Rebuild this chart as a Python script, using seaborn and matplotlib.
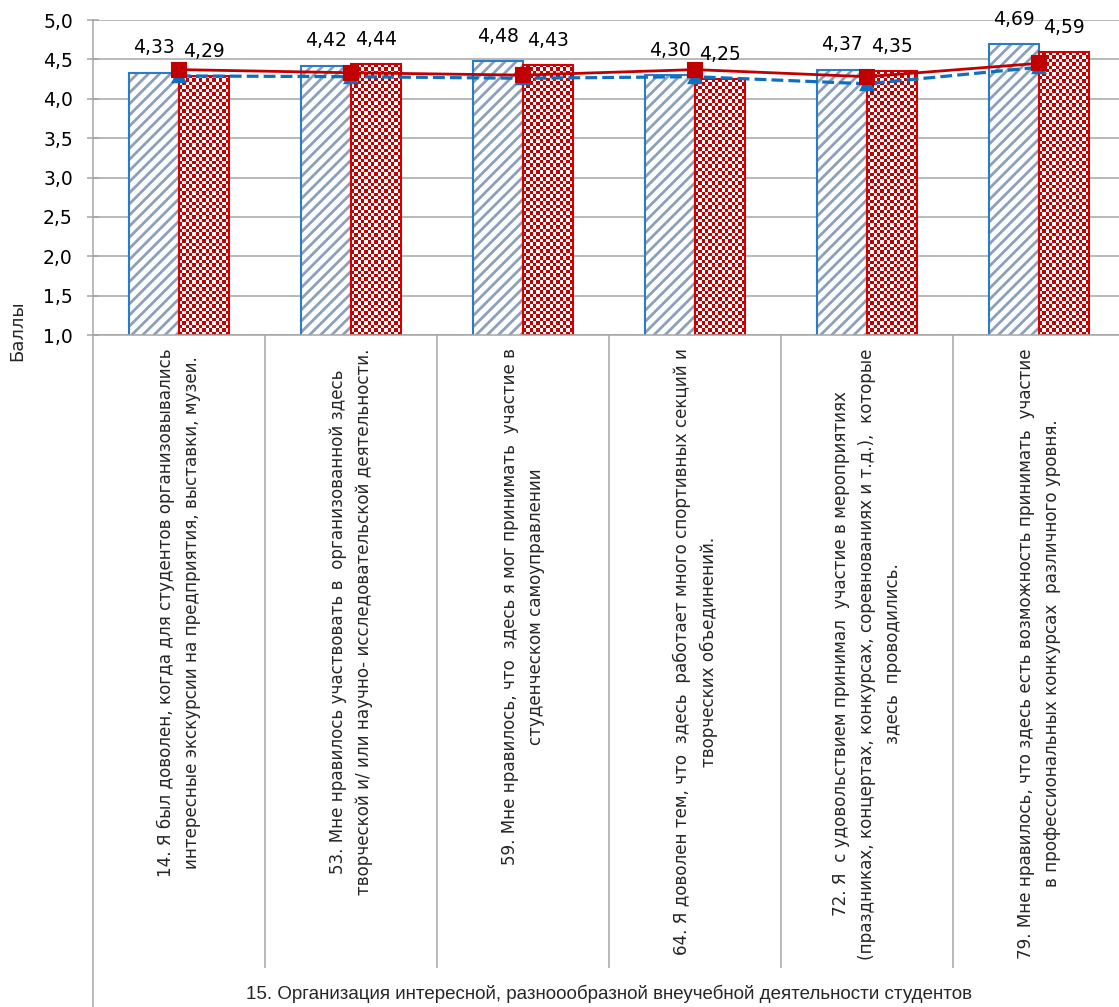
import numpy as np
import pandas as pd
import matplotlib
matplotlib.use("Agg")
import matplotlib.pyplot as plt
import matplotlib.transforms as mtransforms
from matplotlib.colors import ListedColormap
from matplotlib.patches import Rectangle
from matplotlib.ticker import FuncFormatter
import seaborn as sns

# survey items (category axis)
items = [
    "14. Я был доволен, когда для студентов организовывались\nинтересные экскурсии на предприятия, выставки, музеи.",
    "53. Мне нравилось участвовать в  организованной здесь\nтворческой и/ или научно- исследовательской деятельности.",
    "59. Мне нравилось, что  здесь я мог принимать  участие в\nстуденческом самоуправлении",
    "64. Я доволен тем, что  здесь  работает много спортивных секций и\nтворческих объединений.",
    "72. Я  с удовольствием принимал  участие в мероприятиях\n(праздниках, концертах, конкурсах, соревнованиях и т.д.),  которые\nздесь  проводились.",
    "79. Мне нравилось, что здесь есть возможность принимать  участие\nв профессиональных конкурсах  различного уровня.",
]
section = "15. Организация интересной, разноообразной внеучебной деятельности студентов"

# bar series
bar_blue = [4.33, 4.42, 4.48, 4.30, 4.37, 4.69]
bar_red = [4.29, 4.44, 4.43, 4.25, 4.35, 4.59]
# line series
line_red = [4.37, 4.33, 4.30, 4.37, 4.28, 4.45]
line_blue = [4.29, 4.28, 4.26, 4.28, 4.19, 4.40]

BLUE_EDGE = "#2A7CCB"
BLUE_HATCH = "#8DA0BA"
RED_EDGE = "#D40000"
RED_CHECK = "#C00000"
LINE_BLUE = "#0E6FC1"
LINE_RED = "#C00000"
GRID = "#A6A6A6"

sns.set_theme(style="white")
plt.rcParams["font.family"] = ["DejaVu Sans"]
plt.rcParams["hatch.linewidth"] = 2.0

W, H = 1119, 1007
fig = plt.figure(figsize=(W / 100, H / 100), dpi=100)
ax = fig.add_axes([93 / W, 1 - 335 / H, 1032 / W, 315 / H])

keys = [f"q{i}" for i in range(len(items))]
df = pd.DataFrame({
    "item": keys * 2,
    "series": ["a"] * len(keys) + ["b"] * len(keys),
    "score": bar_blue + bar_red,
})
sns.barplot(data=df, x="item", y="score", hue="series", palette=["white", "white"],
            width=0.58, gap=0, errorbar=None, saturation=1, legend=False, ax=ax)
bars_blue, bars_red = ax.containers[0], ax.containers[1]
ax.set_xlim(-0.5, len(keys) - 0.5)
ax.set_ylim(1, 5)

# blue bars: diagonal hatch + blue outline
for p in bars_blue:
    p.set_hatch("///")
    p.set_edgecolor(BLUE_HATCH)
    p.set_linewidth(0)
    ax.add_patch(Rectangle(p.get_xy(), p.get_width(), p.get_height(), fill=False,
                           ec=BLUE_EDGE, lw=1.5, zorder=1.8))

# red bars: small checkerboard
x0p, y0p = ax.transData.transform((0, 1))
x1p, y1p = ax.transData.transform((1, 2))
px_x, px_y = x1p - x0p, y1p - y0p
cell = 3.4
for p in bars_red:
    p.set_linewidth(0)
    x = p.get_x()
    w = p.get_width()
    top = p.get_height()
    bot = max(p.get_y(), 1)
    nx = max(1, int(round(w * px_x / cell)))
    ny = max(1, int(round((top - bot) * px_y / cell)))
    arr = np.add.outer(np.arange(ny), np.arange(nx)) % 2
    ax.imshow(arr, cmap=ListedColormap(["white", RED_CHECK]), extent=[x, x + w, bot, top],
              origin="upper", interpolation="nearest", aspect="auto", zorder=1.5)
    ax.add_patch(Rectangle((x, bot), w, top - bot, fill=False, ec=RED_EDGE, lw=1.5, zorder=1.8))

# lines
sns.pointplot(x=keys, y=line_blue, color=LINE_BLUE, markers="^", linestyles="--",
              markersize=9, linewidth=2.3, errorbar=None, ax=ax, zorder=3)
sns.pointplot(x=keys, y=line_red, color=LINE_RED, markers="s", linestyles="-",
              markersize=10, linewidth=2.0, errorbar=None, ax=ax, zorder=4)
ax.set_xlim(-0.5, len(keys) - 0.5)
ax.set_ylim(1, 5)

# value labels
fmt = lambda v: f"{v:.2f}".replace(".", ",")
ax.bar_label(bars_blue, labels=[fmt(v) for v in bar_blue], padding=11, fontsize=13.5, color="black")
ax.bar_label(bars_red, labels=[fmt(v) for v in bar_red], padding=11, fontsize=13.5, color="black")

# axes styling
ax.set_yticks(np.arange(1, 5.01, 0.5))
ax.yaxis.set_major_formatter(FuncFormatter(lambda v, _: f"{v:.1f}".replace(".", ",")))
ax.yaxis.grid(True, color=GRID, lw=1.1)
ax.set_axisbelow(True)
for s in ["top", "right"]:
    ax.spines[s].set_visible(False)
for s in ["left", "bottom"]:
    ax.spines[s].set_color(GRID)
    ax.spines[s].set_linewidth(1.1)
ax.tick_params(axis="y", direction="inout", length=9, width=1.1, color=GRID,
               pad=10, labelsize=13.5, labelcolor="black", left=True)
ax.set_xlabel("")
ax.set_ylabel("")

ax.set_xticks(range(len(keys)))
ax.set_xticklabels(items, rotation=90, fontsize=12.1, multialignment="center",
                   linespacing=1.6, va="top", ha="center")
ax.tick_params(axis="x", length=0, pad=9.5)

# category separators and extended axis line
ticks = np.asarray(ax.get_xticks(), dtype=float)
bounds = (ticks[:-1] + ticks[1:]) / 2
trans = mtransforms.blended_transform_factory(ax.transData, ax.transAxes)
ax.vlines(bounds, -(968 - 335) / 315, 0, transform=trans, colors=GRID, lw=1.1, clip_on=False)
ax.plot([0, 0], [0, -(1007 - 335) / 315], transform=ax.transAxes, color=GRID, lw=1.1,
        clip_on=False)

ax.text(0.5, -(994 - 335) / 315, section, transform=ax.transAxes, ha="center", va="center",
        fontsize=13.5, family=["Liberation Sans Narrow", "Liberation Sans"])
fig.text(17 / W, 1 - 331 / H, "Баллы", rotation=90, ha="center", va="center", fontsize=13)

fig.savefig("out.png", dpi=100)
